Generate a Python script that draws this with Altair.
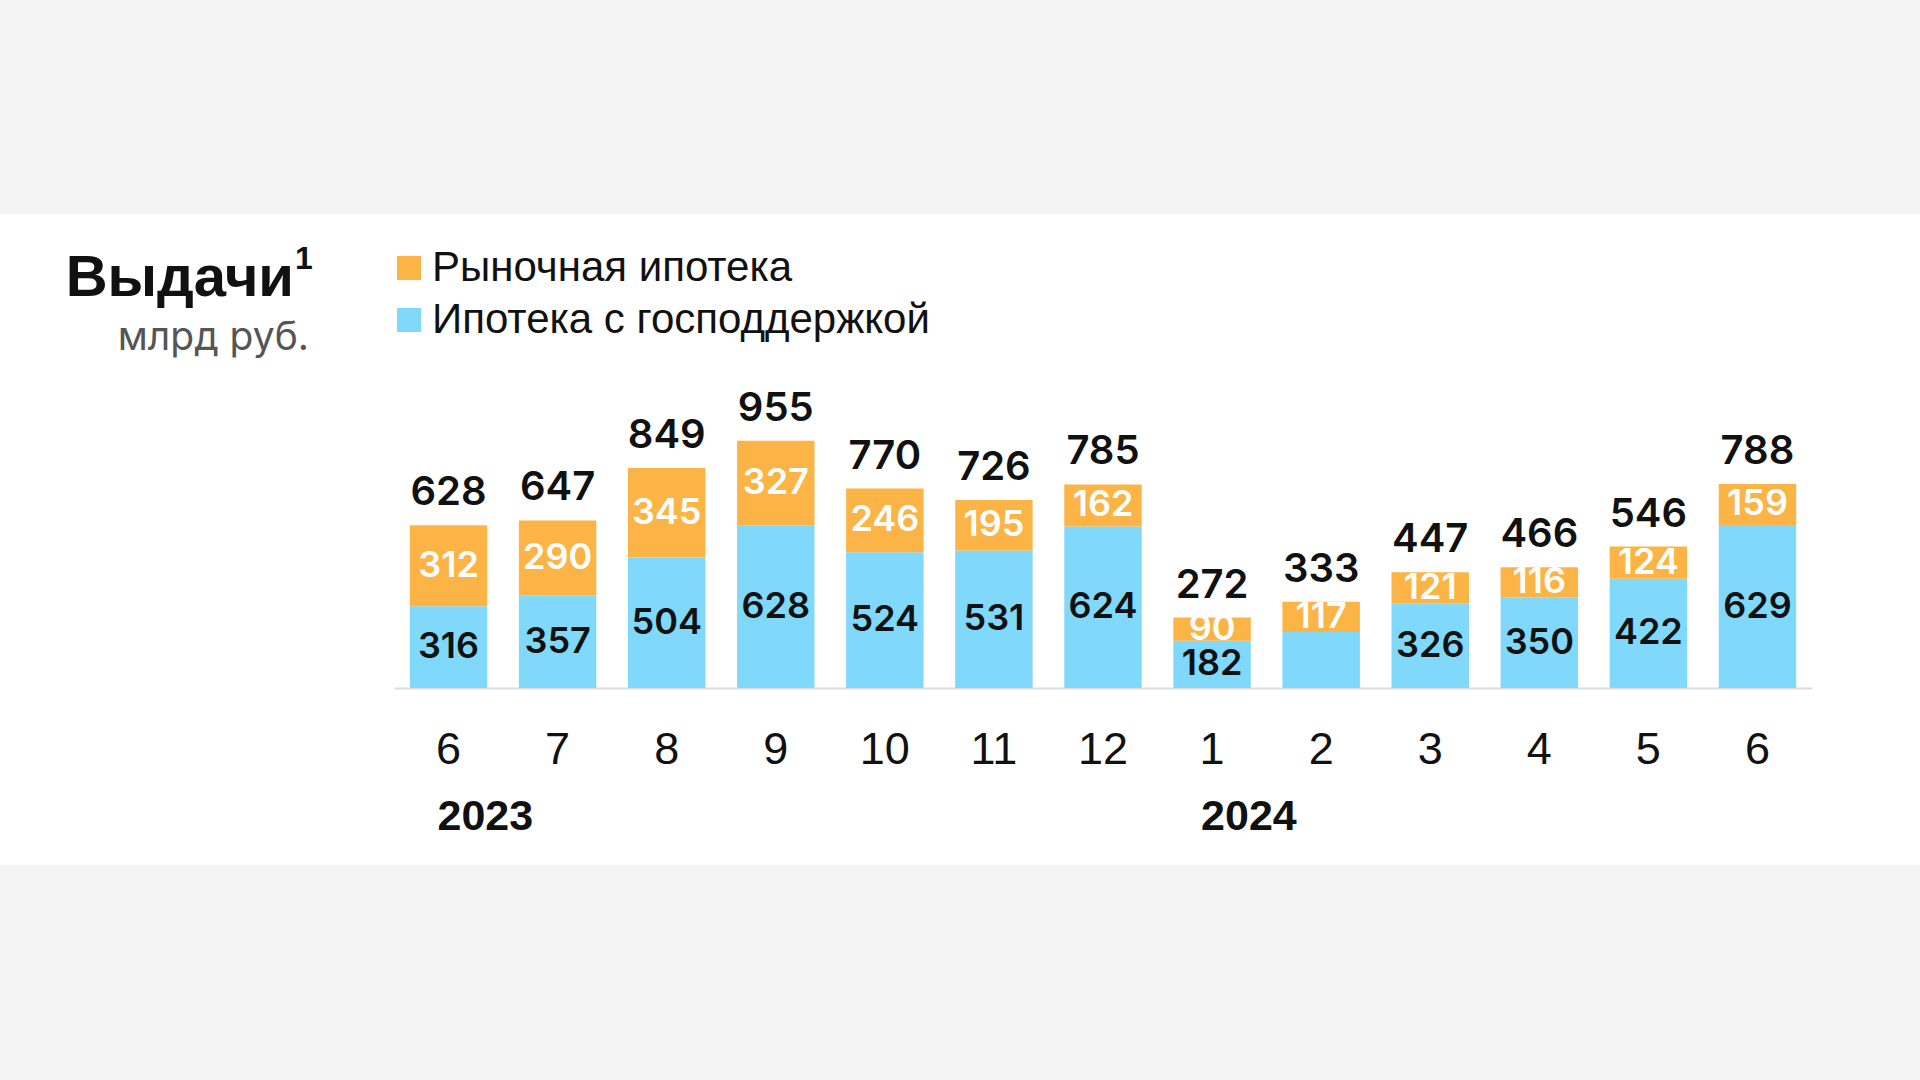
import altair as alt
import pandas as pd

# ---- data ----
months = ["6", "7", "8", "9", "10", "11", "12", "1", "2", "3", "4", "5", "6"]
years = [2023, 2023, 2023, 2023, 2023, 2023, 2023, 2024, 2024, 2024, 2024, 2024, 2024]
gov = [316, 357, 504, 628, 524, 531, 624, 182, 216, 326, 350, 422, 629]
gov_labels = ["316", "357", "504", "628", "524", "531", "624", "182", "", "326", "350", "422", "629"]
market = [312, 290, 345, 327, 246, 195, 162, 90, 117, 121, 116, 124, 159]
market_labels = ["312", "290", "345", "327", "246", "195", "162", "90", "117", "121", "116", "124", "159"]
totals = [628, 647, 849, 955, 770, 726, 785, 272, 333, 447, 466, 546, 788]
series_names = ["Рыночная ипотека", "Ипотека с господдержкой"]
colors = ["#FDB446", "#80D8FA"]

keys = [f"{y}-{m}" for y, m in zip(years, months)]

rows = []
for i, k in enumerate(keys):
    rows.append({"key": k, "series": series_names[1], "value": gov[i], "ord": 0,
                 "mid": gov[i] / 2, "label": gov_labels[i]})
    rows.append({"key": k, "series": series_names[0], "value": market[i], "ord": 1,
                 "mid": gov[i] + market[i] / 2, "label": market_labels[i]})
df = pd.DataFrame(rows)
df_tot = pd.DataFrame({"key": keys, "total": [gov[i] + market[i] for i in range(len(keys))],
                       "label": [str(t) for t in totals]})
first_of_year = []
for i, k in enumerate(keys):
    if i == 0 or years[i] != years[i - 1]:
        first_of_year.append({"key": k, "year": str(years[i])})
df_year = pd.DataFrame(first_of_year)

# ---- layout (plot area starts at left=394, top=429) ----
L, T = 394, 429
W, H = 1418, 259

xscale = alt.Scale(domain=keys, paddingInner=0.29, paddingOuter=0.145)
yscale = alt.Scale(domain=[0, 1000])

base = alt.Chart(df)

one = pd.DataFrame({"a": [0]})
gray_top = alt.Chart(one).mark_rect(color="#f4f4f4").encode(
    x=alt.value(-L), x2=alt.value(1920 - L), y=alt.value(-T), y2=alt.value(214 - T)
)
gray_bottom = alt.Chart(one).mark_rect(color="#f4f4f4").encode(
    x=alt.value(-L), x2=alt.value(1920 - L), y=alt.value(865 - T), y2=alt.value(1080 - T)
)

bars = base.mark_bar().encode(
    x=alt.X("key:N", scale=xscale, sort=keys,
            axis=alt.Axis(title=None, labelExpr="split(datum.value, '-')[1]", labelAngle=0,
                          ticks=False, domain=True, domainColor="#dcdcdc", domainWidth=2,
                          grid=False, labelFont="Liberation Sans", labelFontSize=45,
                          labelColor="#111111", labelPadding=39)),
    y=alt.Y("value:Q", stack="zero", scale=yscale, axis=None),
    color=alt.Color("series:N", scale=alt.Scale(domain=series_names, range=colors),
                    legend=alt.Legend(title=None, orient="none", legendX=388 - L, legendY=247 - T,
                                      symbolType="square", symbolSize=576, symbolStrokeWidth=0,
                                      symbolOpacity=1, labelFont="Liberation Sans",
                                      labelFontSize=42, labelColor="#111111", labelOffset=2,
                                      rowPadding=10, labelLimit=800, padding=0)),
    order=alt.Order("ord:Q", sort="ascending"),
)

seg_labels = base.mark_text(font="Inter", fontSize=36, fontWeight=600, baseline="middle").encode(
    x=alt.X("key:N", scale=xscale, sort=keys),
    y=alt.Y("mid:Q", scale=yscale, stack=None),
    text="label:N",
    color=alt.Color("series:N", scale=alt.Scale(domain=series_names, range=["#ffffff", "#111111"]),
                    legend=None),
)

tot_labels = alt.Chart(df_tot).mark_text(font="Inter", fontSize=40, fontWeight=600,
                                         baseline="alphabetic", dy=-20, color="#111111").encode(
    x=alt.X("key:N", scale=xscale, sort=keys),
    y=alt.Y("total:Q", scale=yscale),
    text="label:N",
)

year_labels = alt.Chart(df_year).mark_text(font="Liberation Sans", fontSize=43, fontWeight="bold",
                                           align="left", baseline="alphabetic", dx=-11,
                                           color="#111111").encode(
    x=alt.X("key:N", scale=xscale, sort=keys),
    y=alt.value(830 - T),
    text="year:N",
)

title = alt.Chart(pd.DataFrame({"t": ["Выдачи"]})).mark_text(
    font="Liberation Sans", fontSize=58, fontWeight="bold", align="right", baseline="alphabetic",
    color="#111111").encode(x=alt.value(294 - L), y=alt.value(296 - T), text="t:N")
sup = alt.Chart(pd.DataFrame({"t": ["1"]})).mark_text(
    font="Liberation Sans", fontSize=32, fontWeight="bold", align="left", baseline="alphabetic",
    color="#111111").encode(x=alt.value(295 - L), y=alt.value(269 - T), text="t:N")
unit = alt.Chart(pd.DataFrame({"t": ["млрд руб."]})).mark_text(
    font="Inter", fontSize=39, fontWeight=400, align="right", baseline="alphabetic",
    color="#555555").encode(x=alt.value(309 - L), y=alt.value(350 - T), text="t:N")

chart = alt.layer(gray_top, gray_bottom, bars, seg_labels, tot_labels, year_labels,
                  title, sup, unit).resolve_scale(
    color="independent"
).properties(
    width=W, height=H,
    padding={"left": L, "top": T, "right": 1920 - L - W, "bottom": 1080 - T - H},
    autosize=alt.AutoSizeParams(type="none"),
    background="#ffffff",
).configure_view(stroke=None)

chart.save("out.html", embed_options={"renderer": "svg", "actions": False})
